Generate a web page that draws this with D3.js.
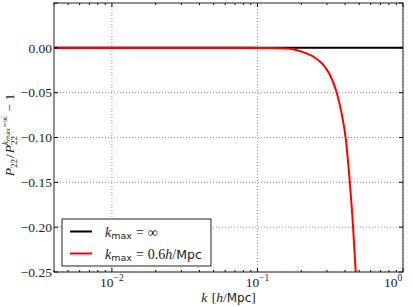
<!DOCTYPE html>
<html>
<head>
<meta charset="utf-8">
<script src="https://cdn.jsdelivr.net/npm/d3@7"></script>
<style>
  html, body { margin: 0; padding: 0; background: #fff; }
  svg { display: block; }
  svg text { white-space: pre; }
</style>
</head>
<body>
<div id="chart"></div>
<script>
// data
const k_full = [0.004, 1];
const ratio_full = [0, 0];

const k_cut = [0.004, 0.02, 0.05, 0.08, 0.1, 0.12, 0.14, 0.1665, 0.19, 0.2056, 0.241, 0.282, 0.314, 0.349, 0.378, 0.404, 0.431, 0.454, 0.473, 0.49];
const ratio_cut = [0, 0, 0, 0, -0.0001, -0.0002, -0.0005, -0.001, -0.003, -0.0048, -0.0096, -0.0186, -0.0297, -0.049, -0.0726, -0.101, -0.15, -0.2, -0.25, -0.29];

const y_ticks = [0, -0.05, -0.10, -0.15, -0.20, -0.25];
const x_ticks = [0.01, 0.1, 1];
const x_tick_exps = ["\u22122", "\u22121", "0"];

const SERIF = "Liberation Serif, DejaVu Serif, serif";
const SANS = "DejaVu Sans, sans-serif";

const margin = { top: 3, right: 10, bottom: 35, left: 54 },
    width = 413 - margin.left - margin.right,
    height = 307 - margin.top - margin.bottom;

const svg = d3.select("#chart").append("svg")
    .attr("width", 413)
    .attr("height", 307);

/* lays out a row of text pieces one after another, measuring each one */
function mathText(parent, pieces, x0, y0, anchor) {
    const grp = parent.append("g");
    let cx = 0;
    const marks = {};
    pieces.forEach(p => {
        if (p.mark) marks[p.mark] = cx;
        if (p.back !== undefined) cx = marks[p.back];
        cx += p.dx || 0;
        const t = grp.append("text")
            .attr("x", cx)
            .attr("y", p.dy || 0)
            .attr("font-family", p.sans ? SANS : SERIF)
            .attr("font-style", p.italic ? "italic" : "normal")
            .attr("font-size", p.size + "px")
            .attr("fill", "#222")
            .text(p.text);
        const w = t.node().getComputedTextLength();
        cx += w;
        if (p.endmark) marks[p.endmark] = cx;
    });
    let shift = 0;
    if (anchor === "middle") shift = -cx / 2;
    if (anchor === "end") shift = -cx;
    grp.attr("transform", `translate(${x0 + shift}, ${y0})`);
    return grp;
}

const g = svg.append("g")
    .attr("transform", `translate(${margin.left}, ${margin.top})`);

const x = d3.scaleLog().domain([0.004, 1]).range([0, width]);
const y = d3.scaleLinear().domain([-0.25, 0.05]).range([height, 0]);

/* grid lines */
g.append("g").selectAll("line")
    .data(x_ticks)
    .join("line")
    .attr("x1", d => x(d)).attr("x2", d => x(d))
    .attr("y1", 0).attr("y2", height)
    .attr("stroke", "#999").attr("stroke-width", 1)
    .attr("stroke-dasharray", "1,2");
g.append("g").selectAll("line")
    .data(y_ticks)
    .join("line")
    .attr("x1", 0).attr("x2", width)
    .attr("y1", d => y(d)).attr("y2", d => y(d))
    .attr("stroke", "#999").attr("stroke-width", 1)
    .attr("stroke-dasharray", "1,2");

/* lines */
g.append("clipPath").attr("id", "clip")
    .append("rect").attr("width", width).attr("height", height);

const line = d3.line()
    .x(d => x(d[0]))
    .y(d => y(d[1]))
    .curve(d3.curveMonotoneX);

g.append("path")
    .datum(d3.zip(k_full, ratio_full))
    .attr("clip-path", "url(#clip)")
    .attr("fill", "none")
    .attr("stroke", "#000")
    .attr("stroke-width", 2)
    .attr("d", line);

g.append("path")
    .datum(d3.zip(k_cut, ratio_cut))
    .attr("clip-path", "url(#clip)")
    .attr("fill", "none")
    .attr("stroke", "#ff0000")
    .attr("stroke-width", 2)
    .attr("d", line);

/* ticks: inward on all sides */
const minor = [];
for (let e = -3; e <= 0; e++) {
    for (let m = 2; m <= 9; m++) {
        const v = m * Math.pow(10, e);
        if (v >= 0.004 && v <= 1) minor.push(v);
    }
}
const tickG = g.append("g").attr("stroke", "#000").attr("stroke-width", 1);
[[0, 1], [height, -1]].forEach(([yy, dir]) => {
    tickG.append("g").selectAll("line").data(x_ticks).join("line")
        .attr("x1", d => x(d)).attr("x2", d => x(d))
        .attr("y1", yy).attr("y2", yy + dir * 4);
    tickG.append("g").selectAll("line").data(minor).join("line")
        .attr("x1", d => x(d)).attr("x2", d => x(d))
        .attr("y1", yy).attr("y2", yy + dir * 2);
});
[[0, 1], [width, -1]].forEach(([xx, dir]) => {
    tickG.append("g").selectAll("line").data(y_ticks.concat([0.05])).join("line")
        .attr("x1", xx).attr("x2", xx + dir * 4)
        .attr("y1", d => y(d)).attr("y2", d => y(d));
});

/* frame */
g.append("rect")
    .attr("width", width).attr("height", height)
    .attr("fill", "none").attr("stroke", "#222").attr("stroke-width", 1);

/* y tick labels */
g.append("g").selectAll("text")
    .data(y_ticks)
    .join("text")
    .attr("font-family", SERIF)
    .attr("x", -2)
    .attr("y", d => y(d))
    .attr("dy", "0.35em")
    .attr("text-anchor", "end")
    .attr("font-size", "13.5px")
    .attr("fill", "#222")
    .text(d => (d < 0 ? "\u2212" : "") + Math.abs(d).toFixed(2));

/* x tick labels */
x_ticks.forEach((d, i) => {
    mathText(g, [
        { text: "10", size: 13.5 },
        { text: x_tick_exps[i], size: 9.5, dy: -6 }
    ], Math.min(x(d), width - 10), height + 15, "middle");
});

/* x axis label */
mathText(svg, [
    { text: "k", size: 13.5, italic: true },
    { text: " [", size: 13.5, dx: 1 },
    { text: "h", size: 13.5, italic: true },
    { text: "/", size: 13.5 },
    { text: "Mpc", size: 12, sans: true },
    { text: "]", size: 13.5 }
], margin.left + width / 2, 302, "middle");

/* y axis label */
const yl = svg.append("g").attr("transform", "translate(14, 135) rotate(-90)");
mathText(yl, [
    { text: "P", size: 13.5, italic: true },
    { text: "22", size: 9, dy: 3 },
    { text: "/", size: 13.5, dx: 1 },
    { text: "P", size: 13.5, italic: true, dx: 1 },
    { text: "22", size: 9, dy: 3, mark: "s" },
    { text: "k", size: 9, italic: true, dy: -6, back: "s" },
    { text: "max", size: 6, sans: true, dy: -4.5 },
    { text: "=\u221e", size: 9, dy: -6, dx: 0.5 },
    { text: " \u2212 1", size: 13.5, dx: 1 }
], 0, 0, "middle");

/* legend */
const leg = svg.append("g").attr("transform", "translate(62, 219)");
leg.append("rect")
    .attr("width", 149).attr("height", 47)
    .attr("fill", "#fff").attr("stroke", "#222").attr("stroke-width", 1);
const legend_items = [
    { color: "#000", value: "\u221e", unit: false },
    { color: "#ff0000", value: "0.6", unit: true }
];
legend_items.forEach((d, i) => {
    const yy = 12.5 + i * 22;
    leg.append("line")
        .attr("x1", 8).attr("x2", 30)
        .attr("y1", yy).attr("y2", yy)
        .attr("stroke", d.color).attr("stroke-width", 2);
    const pieces = [
        { text: "k", size: 14, italic: true },
        { text: "max", size: 9.5, sans: true, dy: 2.5 },
        { text: "=", size: 14, dx: 4 },
        { text: d.value, size: 14, dx: 4 }
    ];
    if (d.unit) {
        pieces.push({ text: "h", size: 14, italic: true });
        pieces.push({ text: "/", size: 14 });
        pieces.push({ text: "Mpc", size: 12.5, sans: true });
    }
    mathText(leg, pieces, 43, yy + 5, "start");
});
</script>
</body>
</html>
